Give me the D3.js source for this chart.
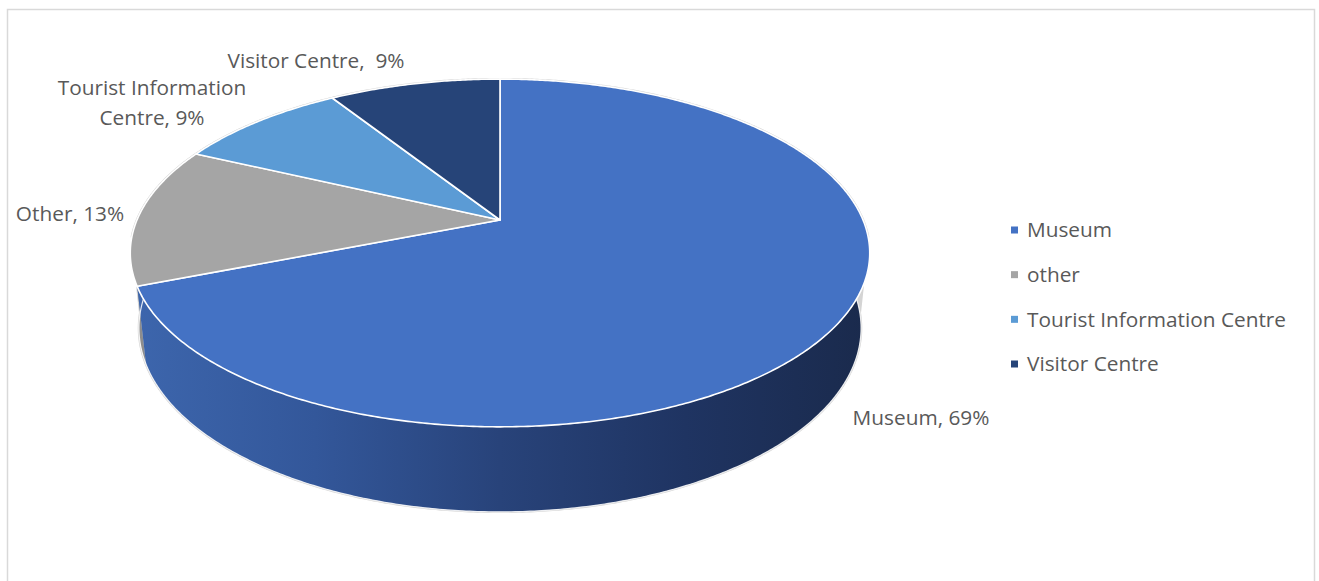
<!DOCTYPE html>
<html><head><meta charset="utf-8">
<script src="https://cdn.jsdelivr.net/npm/d3@7"></script>
<style>html,body{margin:0;padding:0;background:#fff;}svg{display:block;}</style>
</head><body>
<script>
const categories = ["Museum", "other", "Tourist Information Centre", "Visitor Centre"];
const values = [69, 13, 9, 9];
const dataLabels = ["Museum, 69%", "Other, 13%", "Tourist Information\nCentre, 9%", "Visitor Centre,  9%"];
const topColors = ["#4472c4", "#a5a5a5", "#5b9bd5", "#264478"];

const W = 1319, H = 581;
const svg = d3.select("body").append("svg").attr("width", W).attr("height", H);
const FONT = "'Open Sans', sans-serif";
const FS = 20.8;

// border
svg.append("rect").attr("x", 7.5).attr("y", 9.5).attr("width", 1307).attr("height", 620)
  .attr("fill", "none").attr("stroke", "#d9d9d9").attr("stroke-width", 1.5);

// perspective projection of a unit-radius pie
const cx = 500, cy = 220, F = 1699, Dcam = 4.68, phi = 27.5 * Math.PI / 180, hgt = 0.235;
const sinP = Math.sin(phi), cosP = Math.cos(phi);
function proj(theta, Y, r = 1) {
  const X = r * Math.sin(theta), Z = -r * Math.cos(theta);
  const d = Dcam - Y * sinP - Z * cosP;
  return [cx + F * X / d, cy - F * (Y * cosP - Z * sinP) / d];
}
function arcPts(a0, a1, Y, step) {
  const n = Math.max(2, Math.ceil(Math.abs(a1 - a0) / step));
  const pts = [];
  for (let k = 0; k <= n; k++) pts.push(proj(a0 + (a1 - a0) * k / n, Y));
  return pts;
}

const pie = d3.pie().sort(null).value(d => d)(values);
const defs = svg.append("defs");

// wall gradients
const wallStops = [
  [["0%", "#3d66ad"], ["25%", "#33579a"], ["50%", "#28437a"], ["75%", "#1f3462"], ["100%", "#1a2a4c"]],
  [["0%", "#8e8e8e"], ["100%", "#5a5a5a"]],
  [["0%", "#4f87bb"], ["100%", "#2c4d6e"]],
  [["0%", "#223c6a"], ["100%", "#111f3a"]]
];
wallStops.forEach((st, i) => {
  const g = defs.append("linearGradient").attr("id", "wall" + i)
    .attr("gradientUnits", "userSpaceOnUse").attr("x1", 130).attr("x2", 870).attr("y1", 0).attr("y2", 0);
  st.forEach(s => g.append("stop").attr("offset", s[0]).attr("stop-color", s[1]));
});

const line = d3.line();
const step = Math.PI / 360;

// silhouette outline (soft gray)
const sil = [];
for (let a = 0; a <= 720; a += 1) {
  const t = a * Math.PI / 360;
  sil.push(-Math.cos(t) > 0.1 ? proj(t, -hgt) : proj(t, 0));
}
svg.append("path").attr("d", line(sil) + "Z").attr("fill", "#d4d4d4").attr("stroke", "#d4d4d4").attr("stroke-width", 2.4);

// walls: one polygon per slice, drawn back slices first
const wallOrder = pie.map((p, i) => ({ p, i, z: -Math.cos((p.startAngle + p.endAngle) / 2) }))
  .sort((a, b) => a.z - b.z);
svg.append("g").selectAll("path").data(wallOrder).join("path")
  .attr("d", w => {
    const top = arcPts(w.p.startAngle, w.p.endAngle, 0, step);
    const bot = arcPts(w.p.endAngle, w.p.startAngle, -hgt, step);
    return line(top.concat(bot)) + "Z";
  })
  .attr("fill", w => "url(#wall" + w.i + ")");

// bottom rim white edge (front part)
svg.append("path").attr("d", line(arcPts(Math.PI * 0.42, Math.PI * 1.58, -hgt, step)))
  .attr("fill", "none").attr("stroke", "#ffffff").attr("stroke-width", 1.2).attr("opacity", 0.85);

// top faces
svg.append("g").selectAll("path").data(pie).join("path")
  .attr("d", p => line([proj(0, 0, 0)].concat(arcPts(p.startAngle, p.endAngle, 0, step))) + "Z")
  .attr("fill", (p, i) => topColors[i])
  .attr("stroke", "#ffffff").attr("stroke-width", 1.6).attr("stroke-linejoin", "round");

// data labels
const labelPos = [[921, 425], [70, 221], [152, 95], [316, 68]];
const lg = svg.append("g").attr("font-family", FONT).attr("font-size", FS).attr("fill", "#595959");
dataLabels.forEach((t, i) => {
  const lines = t.split("\n");
  const txt = lg.append("text").attr("x", labelPos[i][0]).attr("y", labelPos[i][1])
    .attr("text-anchor", "middle").attr("xml:space", "preserve");
  lines.forEach((l, j) => txt.append("tspan").attr("x", labelPos[i][0]).attr("dy", j === 0 ? 0 : 30).text(l));
});

// legend
const leg = svg.append("g").attr("font-family", FONT).attr("font-size", FS).attr("fill", "#595959");
const legY = d3.scalePoint().domain(categories).range([230, 364]);
categories.forEach((c, i) => {
  leg.append("rect").attr("x", 1011).attr("y", legY(c) - 3.5).attr("width", 7).attr("height", 7).attr("fill", topColors[i]);
  leg.append("text").attr("x", 1027).attr("y", legY(c)).attr("dy", "0.35em").text(c);
});
</script>
</body></html>
